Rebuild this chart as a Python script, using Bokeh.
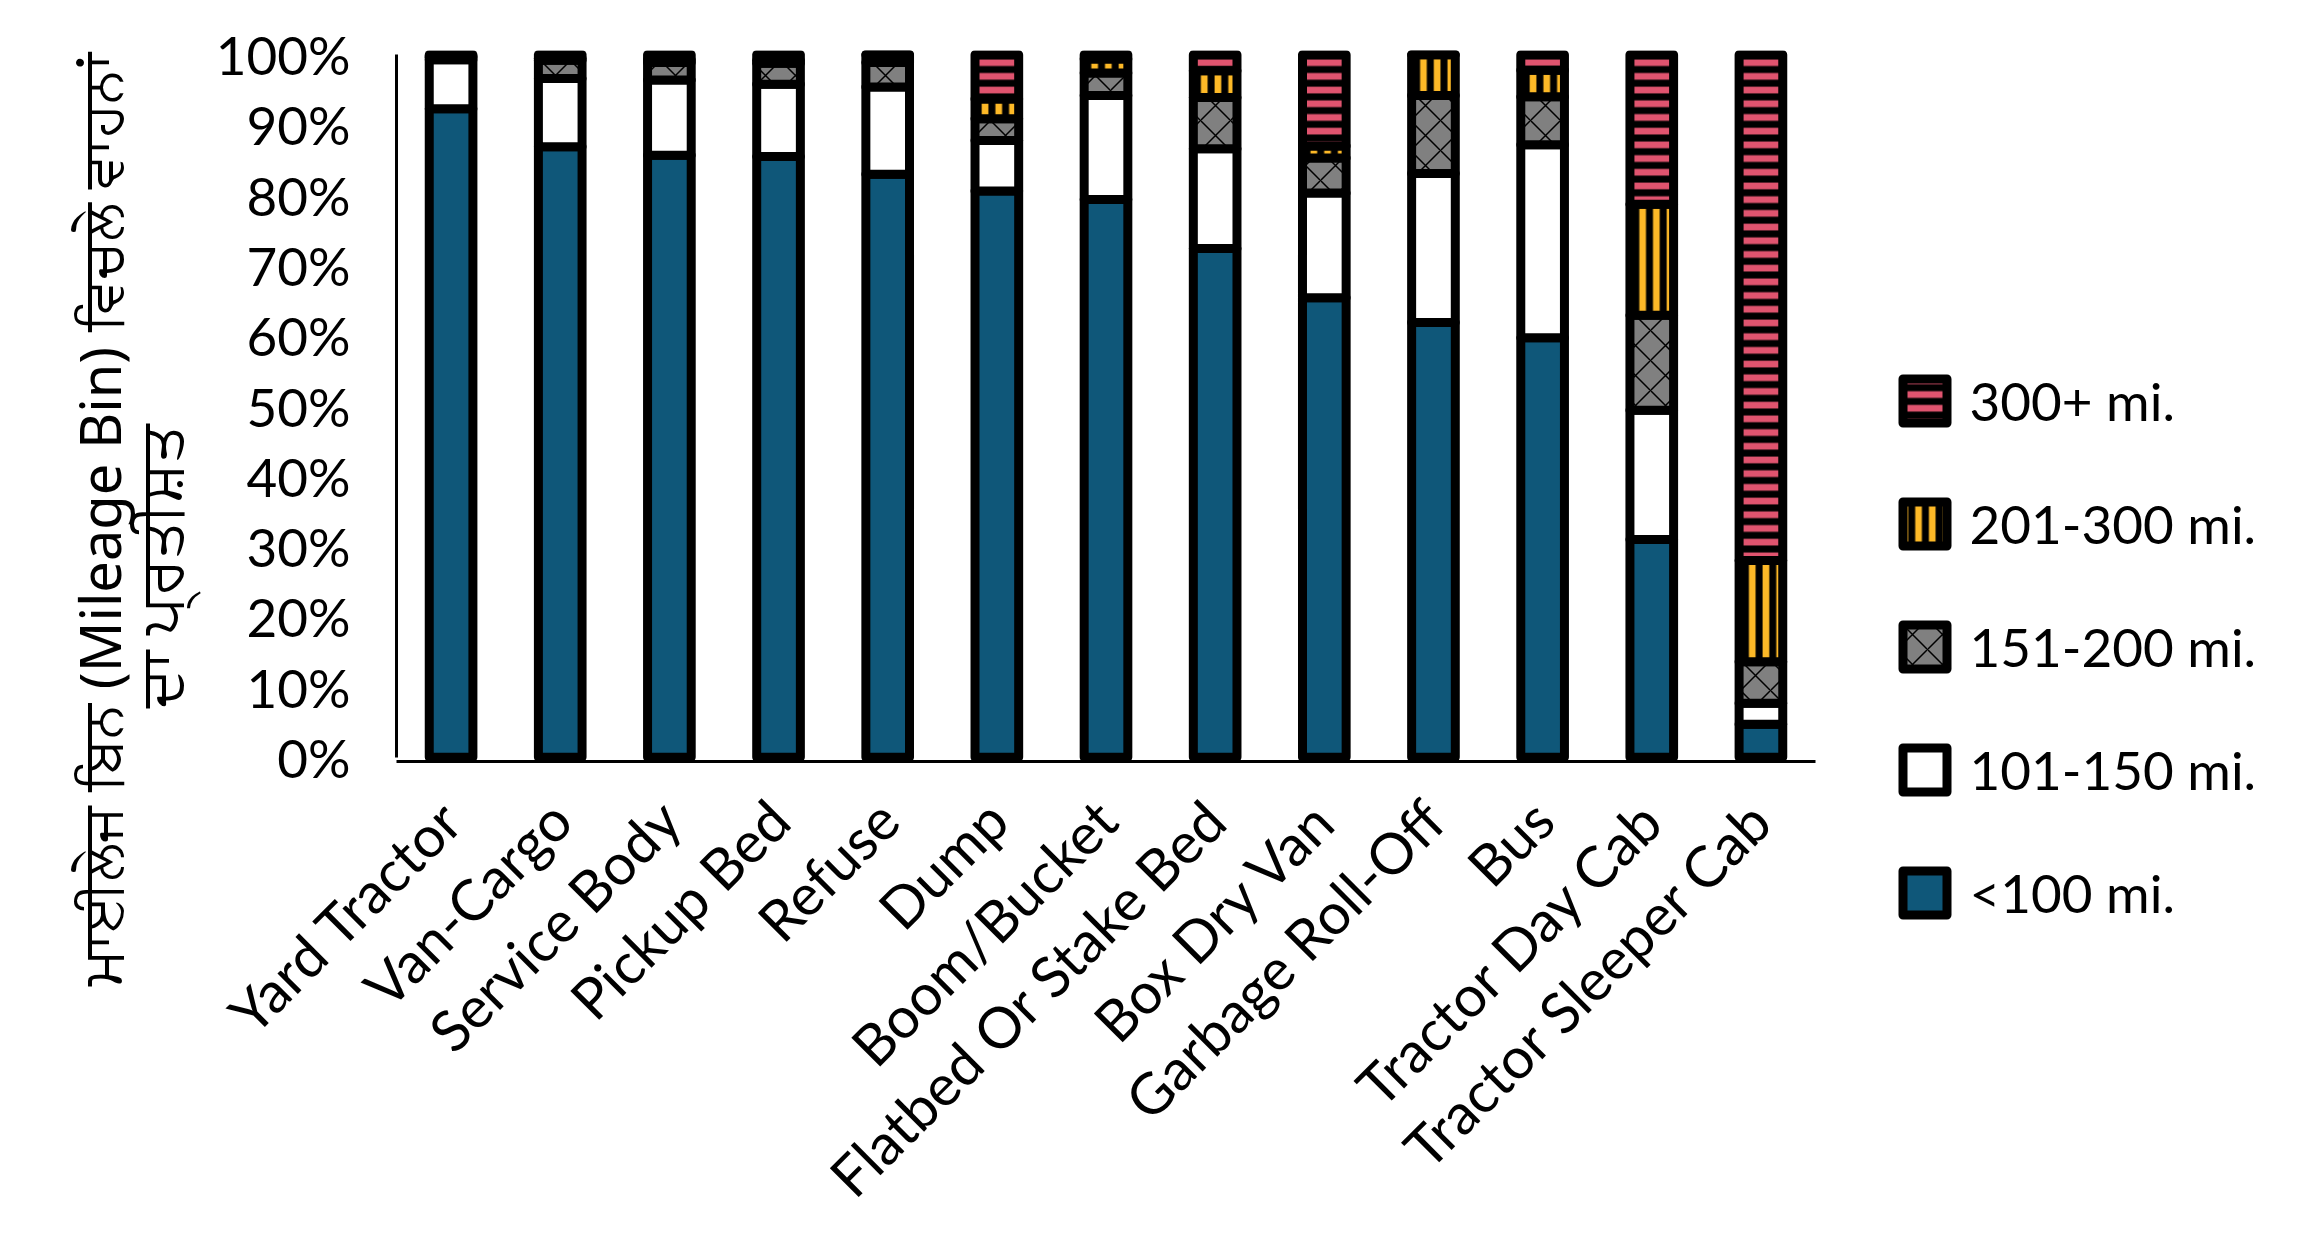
from math import pi
from bokeh.plotting import figure
from bokeh.layouts import row
from bokeh.models import (ColumnDataSource, FactorRange, Range1d, FixedTicker,
                          PrintfTickFormatter, Legend, LegendItem, Label)
from bokeh.embed import file_html
from bokeh.resources import INLINE

# ---------------- data ----------------
vehicle_types = ["Yard Tractor", "Van-Cargo", "Service Body", "Pickup Bed", "Refuse", "Dump",
                 "Boom/Bucket", "Flatbed Or Stake Bed", "Box Dry Van", "Garbage Roll-Off",
                 "Bus", "Tractor Day Cab", "Tractor Sleeper Cab"]
bins = ["<100 mi.", "101-150 mi.", "151-200 mi.", "201-300 mi.", "300+ mi."]
under_100   = [92.3, 86.9, 85.7, 85.5, 83.0, 80.6, 79.4, 72.4, 65.4, 61.9, 59.7, 31.0, 4.7]
mi_101_150  = [7.0, 9.7, 10.7, 10.3, 12.4, 7.2, 14.8, 14.2, 14.9, 21.2, 27.5, 18.4, 3.0]
mi_151_200  = [0.3, 2.6, 2.5, 3.0, 3.5, 3.1, 3.2, 7.3, 5.0, 11.1, 6.8, 13.5, 5.9]
mi_201_300  = [0.2, 0.3, 0.4, 0.4, 1.1, 2.8, 2.0, 3.8, 1.7, 5.8, 3.8, 15.8, 14.4]
mi_300_plus = [0.2, 0.5, 0.7, 0.8, 0.0, 6.3, 0.6, 2.3, 13.0, 0.0, 2.2, 21.3, 72.0]
y_ticks = [0, 10, 20, 30, 40, 50, 60, 70, 80, 90, 100]
y_title_lines = ["ਮਾਈਲੇਜ ਬਿਨ (Mileage Bin) ਵਿਚਲੇ ਵਾਹਨਾਂ", "ਦਾ ਪ੍ਰਤੀਸ਼ਤ"]

stackers = ["b1", "b2", "b3", "b4", "b5"]
src = ColumnDataSource(dict(vehicle=vehicle_types, b1=under_100, b2=mi_101_150,
                            b3=mi_151_200, b4=mi_201_300, b5=mi_300_plus))

# ---------------- styles ----------------
fill_colors = ["#0F5779", "#FFFFFF", "#808080", "#000000", "#000000"]
hatch_patterns = [" ", " ", "x", "|", "-"]
hatch_colors = ["#000000", "#000000", "#000000", "#FDB927", "#E0546F"]
hatch_weights = [1, 1, 1.5, 6.7, 6.7]
hatch_scales = [12, 12, 30, 13.7, 13.7]

FONT = "Lato"
FS = "53px"
TITLE_W = 210
TOTAL_H = 1228
TOP = 50
FRAME_H = 711

# ---------------- title panel (separate narrow canvas) ----------------
tf = figure(width=TITLE_W, height=TOTAL_H, x_range=Range1d(0, TITLE_W),
            y_range=Range1d(0, TOTAL_H), min_border=0, x_axis_type=None, y_axis_type=None,
            output_backend="svg", toolbar_location=None)
if "frame_align" in tf.properties():
    tf.frame_align = False
tf.outline_line_color = None
tf.grid.visible = False
title_x = [98, 157]                       # baseline positions (canvas px)
title_y = [TOTAL_H - 519, TOTAL_H - 566]  # centres (canvas px from bottom)
title_fs = ["56px", "60px"]
for tx, ty, fs, line in zip(title_x, title_y, title_fs, y_title_lines):
    tf.add_layout(Label(x=tx, y=ty, text=line, angle=pi / 2, text_align="center",
                        text_baseline="alphabetic", text_font="Noto Sans",
                        text_font_size=fs, text_color="black"))

# ---------------- main chart ----------------
p = figure(x_range=FactorRange(factors=vehicle_types), y_range=Range1d(-0.6, 100.6),
           frame_width=1419, frame_height=FRAME_H,
           min_border_left=396 - TITLE_W, min_border_top=TOP, min_border_right=470,
           min_border_bottom=TOTAL_H - TOP - FRAME_H,
           output_backend="svg", toolbar_location=None, background_fill_color="white")
p.outline_line_color = None
p.xgrid.grid_line_color = None
p.ygrid.grid_line_color = None

renderers = p.vbar_stack(stackers, x="vehicle", width=0.4, source=src,
                         fill_color=fill_colors, hatch_pattern=hatch_patterns,
                         hatch_color=hatch_colors, hatch_weight=hatch_weights,
                         hatch_scale=hatch_scales, line_color="black", line_width=9,
                         line_join="round")

p.yaxis.ticker = FixedTicker(ticks=y_ticks)
p.yaxis.formatter = PrintfTickFormatter(format="%d%%")
p.yaxis.bounds = (0, 100)
p.yaxis.major_tick_line_color = None
p.yaxis.minor_tick_line_color = None
p.yaxis.major_label_standoff = 40
p.yaxis.axis_line_width = 3
p.yaxis.axis_line_color = "black"
p.yaxis.major_label_text_font = FONT
p.yaxis.major_label_text_font_size = FS
p.yaxis.major_label_text_color = "black"

p.xaxis.major_label_orientation = pi / 4
p.xaxis.major_tick_line_color = None
p.xaxis.minor_tick_line_color = None
p.xaxis.axis_line_width = 3
p.xaxis.axis_line_color = "black"
p.xaxis.major_label_standoff = 42
p.xaxis.major_label_text_font = FONT
p.xaxis.major_label_text_font_size = "57px"
p.xaxis.major_label_text_color = "black"

items = [LegendItem(label=b, renderers=[r]) for b, r in reversed(list(zip(bins, renderers)))]
legend = Legend(items=items, location=(81.6, -166), orientation="vertical",
                glyph_width=55, glyph_height=55, label_height=70, spacing=53,
                padding=0, margin=0, border_line_color=None, background_fill_alpha=0,
                label_text_font=FONT, label_text_font_size=FS, label_standoff=18,
                label_text_baseline="middle", label_text_color="black")
p.add_layout(legend, "right")

layout = row(tf, p)
open("out.html", "w").write(file_html(layout, INLINE))
